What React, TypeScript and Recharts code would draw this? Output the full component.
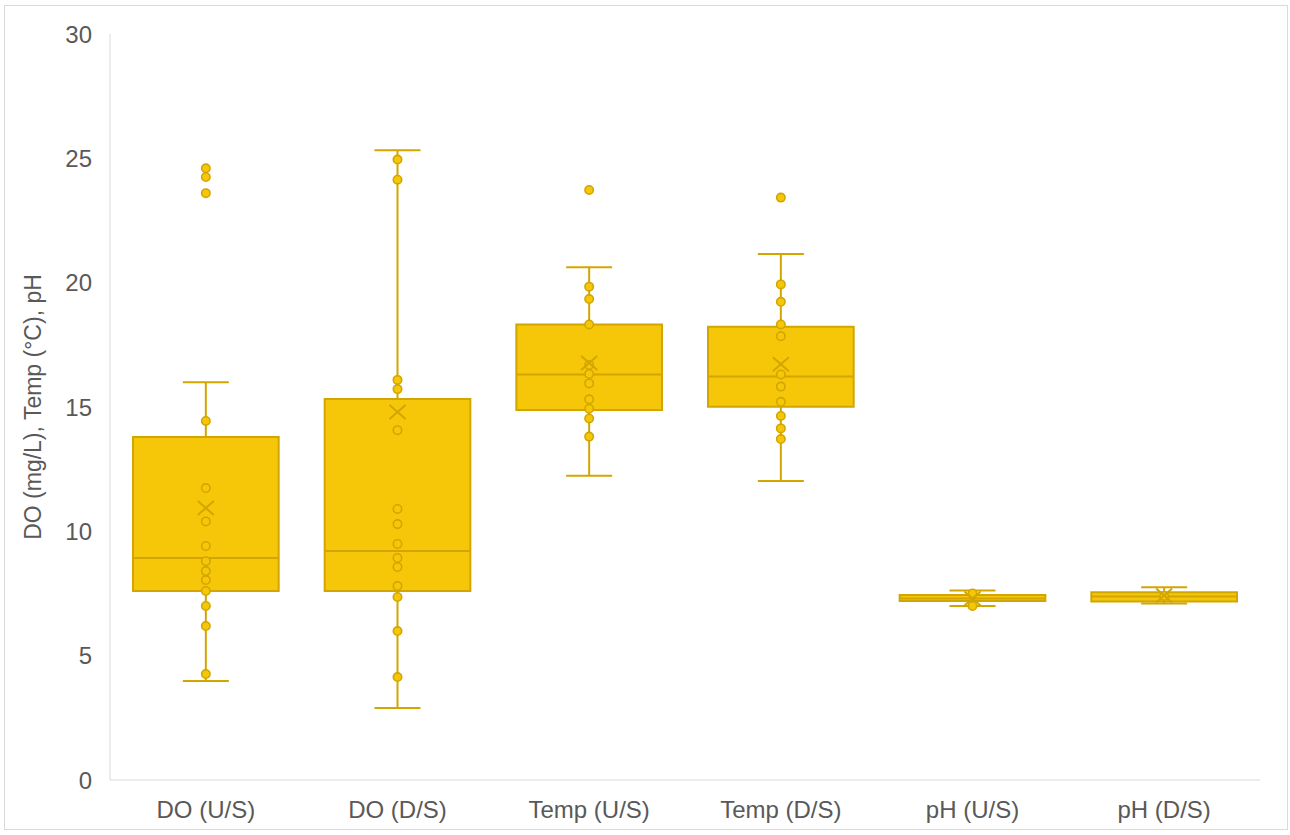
import React from "react";
import { ComposedChart, XAxis, YAxis, Scatter, ReferenceArea, ReferenceLine } from "recharts";

// box plot summary
const categories = ["DO (U/S)", "DO (D/S)", "Temp (U/S)", "Temp (D/S)", "pH (U/S)", "pH (D/S)"];
const whiskerLow = [3.98, 2.9, 12.24, 12.02, 7.0, 7.1];
const q1 = [7.6, 7.6, 14.88, 15.01, 7.2, 7.18];
const medians = [8.93, 9.21, 16.31, 16.23, 7.3, 7.38];
const q3 = [13.79, 15.32, 18.32, 18.23, 7.44, 7.55];
const whiskerHigh = [16.0, 25.33, 20.62, 21.15, 7.62, 7.75];
const means = [10.94, 14.8, 16.77, 16.72, 7.3, 7.42];

// individual data points per category
const pointsDoUs = [24.6, 24.25, 23.6, 14.44, 11.74, 10.4, 9.41, 8.8, 8.4, 8.04, 7.6, 7.0, 6.19, 4.26];
const pointsDoDs = [24.95, 24.14, 16.09, 15.72, 14.07, 10.9, 10.29, 9.49, 8.93, 8.57, 7.8, 7.36, 5.99, 4.14];
const pointsTempUs = [23.73, 19.84, 19.34, 18.32, 16.69, 16.33, 15.95, 15.31, 14.93, 14.54, 13.81];
const pointsTempDs = [23.42, 19.93, 19.23, 18.32, 17.85, 16.31, 15.82, 15.21, 14.64, 14.14, 13.71];
const pointsPhUs = [7.5, 7.0];
const pointsPhDs = [7.4];

const yTicks = [0, 5, 10, 15, 20, 25, 30];
const xTicks = categories.map((_, i) => i + 0.5);

const FILL = "#F5C708";
const EDGE = "#D2A600";
const TEXT = "#595959";
const AXIS = "#D9D9D9";
const FONT = "'Liberation Sans', Arial, sans-serif";

const BOX_HALF = 0.38;
const CAP_HALF = 0.12;

const pointSets = [pointsDoUs, pointsDoDs, pointsTempUs, pointsTempDs, pointsPhUs, pointsPhDs];
const pointData = pointSets.flatMap((vals, i) => vals.map((v) => ({ x: i + 0.5, y: v })));
const meanData = means.map((m, i) => ({ x: i + 0.5, y: m }));
const rows = categories.map((c, i) => ({ name: c, x: i + 0.5 }));

const Dot = (p: any) => (
  <circle cx={p.cx} cy={p.cy} r={4.2} fill={FILL} stroke={EDGE} strokeWidth={1.6} />
);

const MeanMark = (p: any) => (
  <g stroke={EDGE} strokeWidth={2}>
    <line x1={p.cx - 8} y1={p.cy - 7} x2={p.cx + 8} y2={p.cy + 7} />
    <line x1={p.cx - 8} y1={p.cy + 7} x2={p.cx + 8} y2={p.cy - 7} />
  </g>
);

export default function App() {
  return (
    <div style={{ position: "absolute", left: 0, top: 0, width: 1290, height: 835, background: "#fff", fontFamily: FONT }}>
      <div
        style={{
          position: "absolute",
          left: 4,
          top: 5,
          width: 1284,
          height: 825,
          border: "1px solid #D9D9D9",
          boxSizing: "border-box",
        }}
      />
      <ComposedChart
        width={1290}
        height={835}
        data={rows}
        margin={{ top: 34, right: 30, bottom: 10, left: 0 }}
        style={{ position: "absolute", left: 0, top: 0 }}
      >
        <XAxis
          dataKey="x"
          type="number"
          domain={[0, 6]}
          ticks={xTicks}
          tickFormatter={(v) => categories[Math.round(v - 0.5)]}
          height={45}
          stroke={AXIS}
          tickLine={false}
          tickSize={0}
          tickMargin={21}
          tick={{ fill: TEXT, fontSize: 24, fontFamily: FONT }}
        />
        <YAxis
          type="number"
          domain={[0, 30]}
          ticks={yTicks}
          width={110}
          stroke={AXIS}
          tickLine={false}
          tickSize={0}
          tickMargin={18}
          tick={{ fill: TEXT, fontSize: 24, fontFamily: FONT }}
          label={{
            content: (props: any) => {
              const vb = props.viewBox || {};
              const cy = vb.y + vb.height / 2;
              return (
                <text
                  x={33}
                  y={cy}
                  transform={`rotate(-90 33 ${cy})`}
                  textAnchor="middle"
                  dominantBaseline="central"
                  fill={TEXT}
                  fontSize={23}
                  fontFamily={FONT}
                >
                  DO (mg/L), Temp (°C), pH
                </text>
              );
            },
          }}
        />
        {categories.map((c, i) => (
          <ReferenceLine
            key={"wl" + c}
            segment={[{ x: i + 0.5, y: whiskerLow[i] }, { x: i + 0.5, y: q1[i] }]}
            stroke={EDGE}
            strokeWidth={2}
          />
        ))}
        {categories.map((c, i) => (
          <ReferenceLine
            key={"wh" + c}
            segment={[{ x: i + 0.5, y: q3[i] }, { x: i + 0.5, y: whiskerHigh[i] }]}
            stroke={EDGE}
            strokeWidth={2}
          />
        ))}
        {categories.map((c, i) => (
          <ReferenceLine
            key={"cl" + c}
            segment={[{ x: i + 0.5 - CAP_HALF, y: whiskerLow[i] }, { x: i + 0.5 + CAP_HALF, y: whiskerLow[i] }]}
            stroke={EDGE}
            strokeWidth={2}
          />
        ))}
        {categories.map((c, i) => (
          <ReferenceLine
            key={"ch" + c}
            segment={[{ x: i + 0.5 - CAP_HALF, y: whiskerHigh[i] }, { x: i + 0.5 + CAP_HALF, y: whiskerHigh[i] }]}
            stroke={EDGE}
            strokeWidth={2}
          />
        ))}
        {categories.map((c, i) => (
          <ReferenceArea
            key={"box" + c}
            x1={i + 0.5 - BOX_HALF}
            x2={i + 0.5 + BOX_HALF}
            y1={q1[i]}
            y2={q3[i]}
            fill={FILL}
            fillOpacity={1}
            stroke={EDGE}
            strokeWidth={2}
          />
        ))}
        {categories.map((c, i) => (
          <ReferenceLine
            key={"md" + c}
            segment={[{ x: i + 0.5 - BOX_HALF, y: medians[i] }, { x: i + 0.5 + BOX_HALF, y: medians[i] }]}
            stroke={EDGE}
            strokeWidth={2}
          />
        ))}
        <Scatter data={pointData} dataKey="y" shape={Dot} isAnimationActive={false} />
        <Scatter data={meanData} dataKey="y" shape={MeanMark} isAnimationActive={false} />
      </ComposedChart>
    </div>
  );
}
